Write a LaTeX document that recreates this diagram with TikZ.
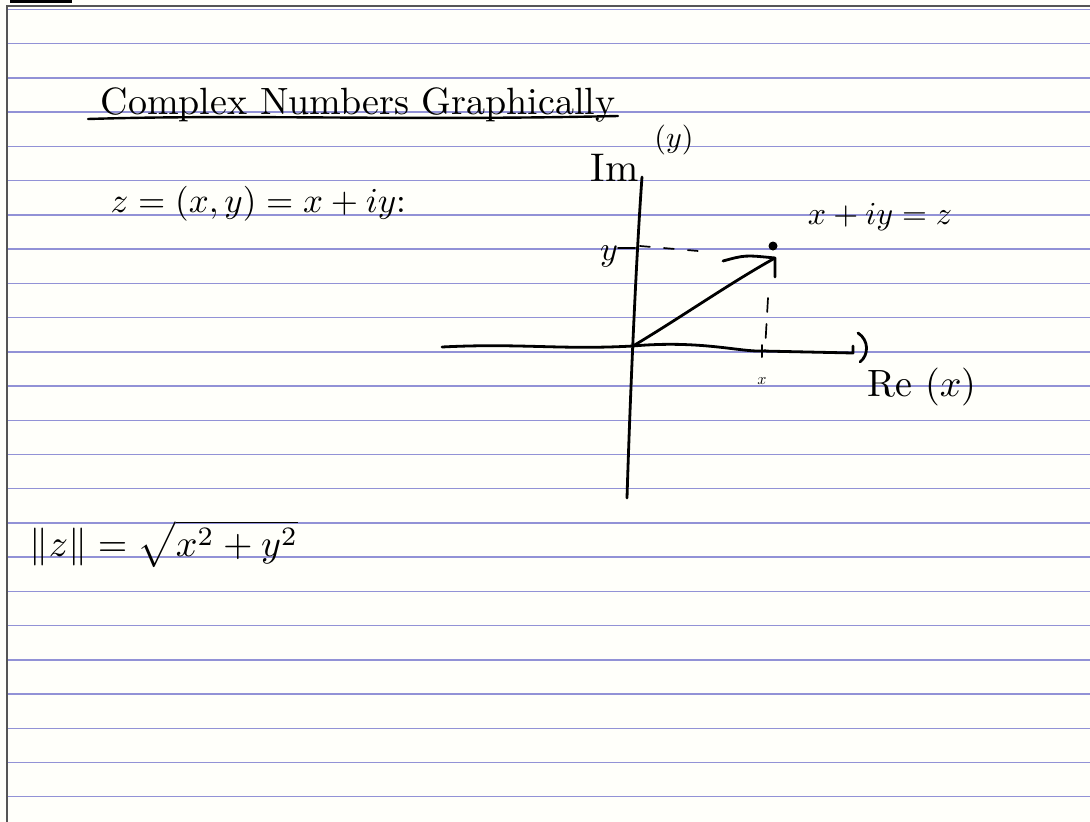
\documentclass[tikz,border=0pt]{standalone}
\usepackage{amsmath}
\definecolor{paper}{RGB}{255,255,250}
\definecolor{ruleblue}{RGB}{146,146,214}
\definecolor{frame}{RGB}{85,85,85}
\begin{document}
\begin{tikzpicture}[x=1pt,y=-1pt,
  ink/.style={line width=2.8pt,line cap=round,line join=round,black},
  thinink/.style={line width=1.7pt,line cap=round,black},
  ruleline/.style={line width=1.4pt,color=ruleblue},
  txt/.style={inner sep=0pt,text=black}]
\useasboundingbox (0,0) rectangle (1090,822);
\fill[paper] (0,0) rectangle (1090,822);
% ruled lines
\foreach \k in {0,...,23}
  \draw[ruleline] (8,{9.5+34.23*\k}) -- (1090,{9.5+34.23*\k});
% page frame and tab
\draw[frame,line width=2.4pt] (1090,6) -- (7,6) -- (7,822);
\fill[black] (10,0) rectangle (72,3);

% title
\node[txt,scale=3.8,anchor=base west] (title) at (100,114) {Complex Numbers Graphically};
\coordinate (ul1) at (88,119);
\coordinate (ul2) at (618,116);
\draw[ink,line width=2.4pt] (ul1) .. controls (250,114) and (400,121) .. (ul2);

% definition
\node[txt,scale=3.5,anchor=base west] (eq) at (110,212) {$z=(x,y)=x+iy$:};

% axes
\coordinate (O) at (633,346);
\coordinate (ytop) at (642,177);
\coordinate (ybot) at (627,498);
\coordinate (xl) at (442,347);
\coordinate (xr) at (853,353);
\coordinate (P) at (773,246);
\coordinate (T) at (775,258);
\draw[ink] (ytop) .. controls (636,260) and (630,400) .. (ybot);
\draw[ink] (xl) .. controls (520,343) and (560,350) .. (O)
  .. controls (700,340) and (740,352) .. (762,351) -- (xr) -- (853,346);
\draw[ink] (858,333) .. controls (869,340) and (869,355) .. (860,362);
% vector
\draw[ink] (O) .. controls (680,318) and (730,283) .. (T);
\draw[ink] (723,261) .. controls (745,255) .. (T) -- (775,277);
\fill (P) circle (4.5);
% projections
\draw[thinink,dash pattern=on 10pt off 14pt] (640,246) -- (710,252);
\draw[thinink,dash pattern=on 14pt off 12pt] (768,298) -- (765,350);
\draw[ink,line width=2pt] (762,345) -- (762,357);
\draw[ink,line width=2pt] (618,248) -- (635,248);

% labels
\node[txt,scale=4,anchor=base west] (im) at (590,181) {Im};
\node[txt,scale=3] (imy) at (674,140) {($y$)};
\node[txt,scale=3.2] (zlab) at (880,217) {$x+iy=z$};
\node[txt,scale=3.4] (ylab) at (609,256) {$y$};
\node[txt,scale=1.6] (xlab) at (762,381) {$x$};
\node[txt,scale=3.8,anchor=base] (re) at (922,396) {Re ($x$)};

% norm
\node[txt,scale=3.8] (norm) at (164,544) {$\|z\|=\sqrt{x^2+y^2}$};
\end{tikzpicture}
\end{document}
